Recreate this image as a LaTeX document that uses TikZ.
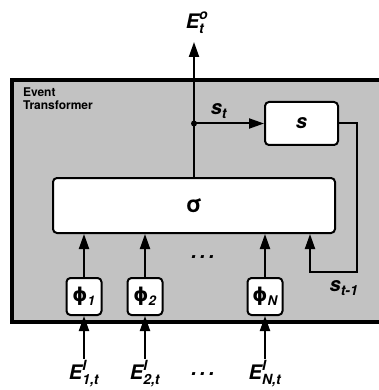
\documentclass[tikz,border=0pt]{standalone}
\usepackage{amsmath}
\usepackage{fontspec}
\setmainfont{TeX Gyre Heros}
\newfontfamily\phifont{DejaVu Sans}
\usetikzlibrary{arrows.meta,calc,positioning}

\newcommand{\bi}[1]{\textit{#1}}
\newcommand{\phisym}{{\phifont\upshape ϕ}}

\tikzset{
  rbox/.style={draw,fill=white,rounded corners=4pt,line width=2pt},
  lbl/.style={font=\bfseries\itshape\fontsize{20}{22}\selectfont,inner sep=1pt},
  phibox/.style={rbox,minimum width=35pt,minimum height=37pt,inner sep=0pt,
    font=\bfseries\fontsize{19}{21}\selectfont}
}

\begin{document}
\begin{tikzpicture}[x=1pt,y=-1pt,line width=2pt,>={Triangle[length=15pt,width=10pt]}]
  \useasboundingbox (0,0) rectangle (378,390);
  \draw[line width=3.5pt,fill=black!24] (12,80) rectangle (386,322);
  \node[anchor=north west,align=left,inner sep=0pt,
    font=\bfseries\fontsize{12}{13}\selectfont] (title) at (22,87) {Event\\Transformer};

  \node[rbox,minimum width=282pt,minimum height=55pt,
    font=\bfseries\fontsize{23}{25}\selectfont] (sigma) at (194,205.5) {σ};
  \node[rbox,minimum width=73pt,minimum height=43pt,lbl] (s) at (301.5,123.5) {s};

  \node[phibox] (phi1) at (84,296.5) {\phisym$_{\bi{1}}$};
  \node[phibox] (phi2) at (145,296.5) {\phisym$_{\bi{2}}$};
  \node[phibox] (phiN) at (265,296.5) {\phisym$_{\bi{N}}$};

  % inputs
  \node[lbl] (in1) at (84,374) {$\bi{E}^{\bi{I}}_{\bi{1,t}}$};
  \node[lbl] (in2) at (145,374) {$\bi{E}^{\bi{I}}_{\bi{2,t}}$};
  \node[lbl] (inN) at (265,374) {$\bi{E}^{\bi{I}}_{\bi{N,t}}$};
  \node[lbl] (dotsin) at (203,374) {.\,.\,.};
  \node[lbl] (dotsmid) at (203,257) {.\,.\,.};

  \draw[->] (in1.north) -- (phi1.south);
  \draw[->] (in2.north) -- (phi2.south);
  \draw[->] (inN.north) -- (phiN.south);
  \draw[->] (phi1.north) -- (phi1.north |- sigma.south);
  \draw[->] (phi2.north) -- (phi2.north |- sigma.south);
  \draw[->] (phiN.north) -- (phiN.north |- sigma.south);

  % output and state
  \coordinate (tip) at (194,42);
  \node[lbl] (out) at (197,23) {$\bi{E}^{\bi{o}}_{\bi{t}}$};
  \draw[->] (sigma.north) -- (tip);
  \coordinate (jn) at (194,123.5);
  \fill (jn) circle (3pt);
  \draw[->] (jn) -- (s.west);
  \node[lbl] (st) at (219,111) {$\bi{s}_{\bi{t}}$};

  \coordinate (fb) at (357,272);
  \coordinate (fbin) at (310,272);
  \draw[->] (s.east) -| (fb) -- (fbin) -- (fbin |- sigma.south);
  \node[lbl] (stm) at (344,288) {$\bi{s}_{\bi{t-1}}$};
\end{tikzpicture}
\end{document}
